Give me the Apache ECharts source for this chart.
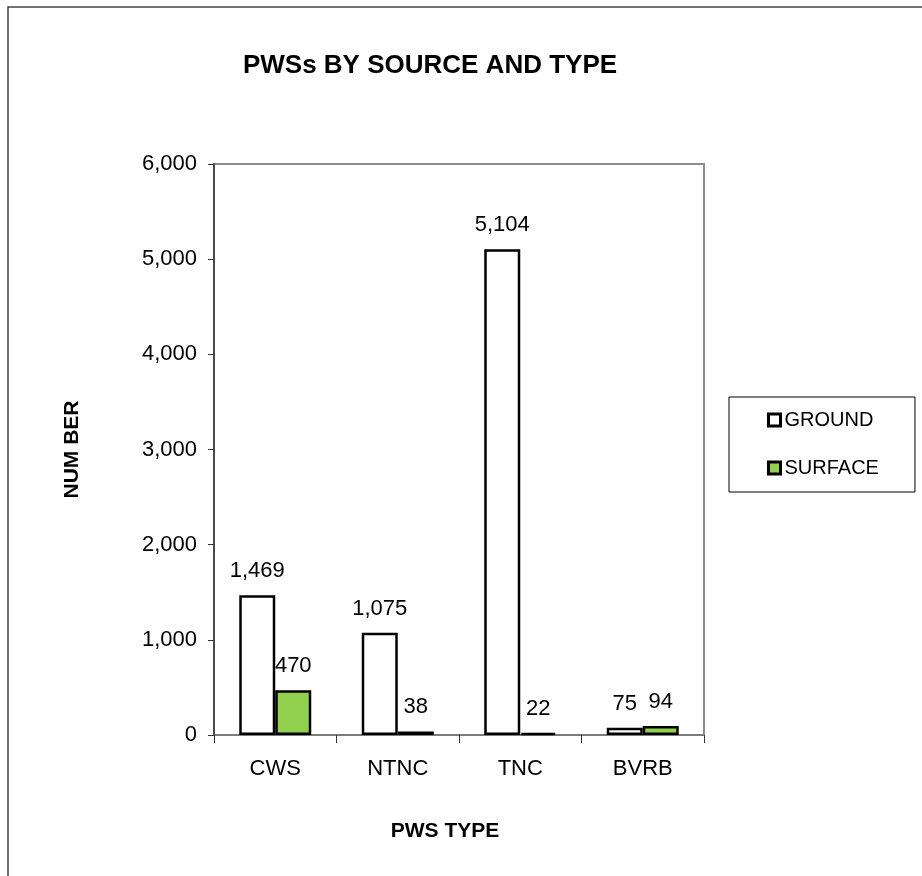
<!DOCTYPE html>
<html>
<head>
<meta charset="utf-8">
<script src="https://cdn.jsdelivr.net/npm/echarts@6/dist/echarts.min.js"></script>
<style>
html,body{margin:0;padding:0;background:#fff;}
#chart{width:922px;height:876px;}
</style>
</head>
<body>
<div id="chart"></div>
<script>
var categories = ['CWS', 'NTNC', 'TNC', 'BVRB'];
var groundValues = [1469, 1075, 5104, 75];
var surfaceValues = [470, 38, 22, 94];
var yTicks = [0, 1000, 2000, 3000, 4000, 5000, 6000];

var chart = echarts.init(document.getElementById('chart'), null, {renderer: 'canvas'});
var font = 'Arial, "Liberation Sans", sans-serif';
function fmt(v) { return Number(v).toLocaleString('en-US'); }

var option = {
  backgroundColor: '#fff',
  animation: false,
  graphic: [{
    type: 'rect',
    shape: {x: 8, y: 7, width: 1000, height: 1000},
    style: {fill: 'none', stroke: '#444', lineWidth: 1.5},
    silent: true, z: -1
  }],
  title: {
    text: 'PWSs BY SOURCE AND TYPE',
    left: 425, top: 48, textAlign: 'center',
    textStyle: {fontFamily: font, fontSize: 26, fontWeight: 'bold', color: '#000'}
  },
  legend: {
    orient: 'vertical',
    left: 729, top: 397,
    padding: [13, 36, 14, 38],
    itemGap: 28,
    itemWidth: 12, itemHeight: 12,
    borderColor: '#000', borderWidth: 1,
    icon: 'rect',
    textStyle: {fontFamily: font, fontSize: 20, color: '#000', padding: [0, 0, 0, -1]},
    data: [
      {name: 'GROUND', itemStyle: {color: '#fff', borderColor: '#000', borderWidth: 3}},
      {name: 'SURFACE', itemStyle: {color: '#92D050', borderColor: '#000', borderWidth: 3}}
    ]
  },
  grid: {
    left: 214, top: 164, right: 218, bottom: 141,
    show: true, borderColor: '#8c8c8c', borderWidth: 2, containLabel: false
  },
  xAxis: {
    type: 'category',
    data: categories,
    name: 'PWS TYPE',
    nameLocation: 'middle',
    nameGap: 86,
    nameTextStyle: {fontFamily: font, fontSize: 21, fontWeight: 'bold', color: '#000', padding: [0, 28, 0, 0]},
    axisLine: {lineStyle: {color: '#777', width: 1.5}},
    axisTick: {show: true, length: 8, alignWithLabel: false, lineStyle: {color: '#333', width: 1}},
    axisLabel: {fontFamily: font, fontSize: 22, color: '#000', margin: 23}
  },
  yAxis: {
    type: 'value',
    min: 0, max: 6000, interval: 1000,
    name: 'NUM BER',
    nameLocation: 'middle',
    nameGap: 131,
    nameRotate: 90,
    nameTextStyle: {fontFamily: font, fontSize: 21, fontWeight: 'bold', color: '#000'},
    axisLine: {show: true, lineStyle: {color: '#333', width: 1.5}},
    axisTick: {show: true, length: 6, inside: false, lineStyle: {color: '#333', width: 1}},
    splitLine: {show: false},
    axisLabel: {
      fontFamily: font, fontSize: 22, color: '#000', margin: 17,
      formatter: function (v) { return yTicks.indexOf(v) >= 0 ? fmt(v) : ''; }
    }
  },
  series: [{
    name: 'GROUND',
    type: 'bar',
    data: groundValues,
    barWidth: 36,
    barGap: '0%',
    itemStyle: {color: '#fff', borderColor: '#000', borderWidth: 2.5},
    label: {
      show: true, position: 'top', distance: 13,
      fontFamily: font, fontSize: 22, color: '#000',
      formatter: function (p) { return fmt(p.value); }
    }
  }, {
    name: 'SURFACE',
    type: 'bar',
    data: surfaceValues,
    barWidth: 36,
    barGap: '0%',
    itemStyle: {color: '#92D050', borderColor: '#000', borderWidth: 2.5},
    label: {
      show: true, position: 'top', distance: 13,
      fontFamily: font, fontSize: 22, color: '#000',
      formatter: function (p) { return fmt(p.value); }
    }
  }]
};
chart.setOption(option);
</script>
</body>
</html>
